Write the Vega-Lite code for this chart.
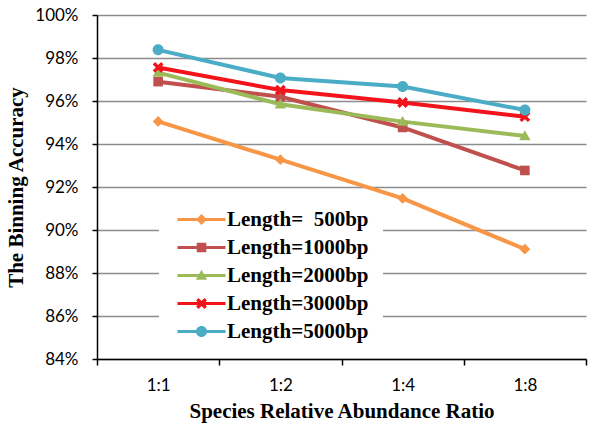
{
  "$schema": "https://vega.github.io/schema/vega-lite/v6.json",
  "width": 489,
  "height": 344,
  "autosize": {"type": "none"},
  "padding": {"left": 97, "top": 15, "right": 14, "bottom": 71},
  "background": "white",
  "config": {"view": {"stroke": null}},
  "data": {
    "values": [
      {"ratio": "1:1", "series": "Length=\u00a0\u00a0500bp", "acc": 0.9505},
      {"ratio": "1:2", "series": "Length=\u00a0\u00a0500bp", "acc": 0.9327},
      {"ratio": "1:4", "series": "Length=\u00a0\u00a0500bp", "acc": 0.9147},
      {"ratio": "1:8", "series": "Length=\u00a0\u00a0500bp", "acc": 0.8911},
      {"ratio": "1:1", "series": "Length=1000bp", "acc": 0.969},
      {"ratio": "1:2", "series": "Length=1000bp", "acc": 0.962},
      {"ratio": "1:4", "series": "Length=1000bp", "acc": 0.9477},
      {"ratio": "1:8", "series": "Length=1000bp", "acc": 0.9277},
      {"ratio": "1:1", "series": "Length=2000bp", "acc": 0.9732},
      {"ratio": "1:2", "series": "Length=2000bp", "acc": 0.9585},
      {"ratio": "1:4", "series": "Length=2000bp", "acc": 0.9504},
      {"ratio": "1:8", "series": "Length=2000bp", "acc": 0.9437},
      {"ratio": "1:1", "series": "Length=3000bp", "acc": 0.9756},
      {"ratio": "1:2", "series": "Length=3000bp", "acc": 0.9651},
      {"ratio": "1:4", "series": "Length=3000bp", "acc": 0.9593},
      {"ratio": "1:8", "series": "Length=3000bp", "acc": 0.9527},
      {"ratio": "1:1", "series": "Length=5000bp", "acc": 0.9838},
      {"ratio": "1:2", "series": "Length=5000bp", "acc": 0.9707},
      {"ratio": "1:4", "series": "Length=5000bp", "acc": 0.9667},
      {"ratio": "1:8", "series": "Length=5000bp", "acc": 0.9558}
    ]
  },
  "encoding": {
    "x": {
      "field": "ratio",
      "type": "ordinal",
      "bandPosition": 0.5,
      "scale": {"type": "band", "domain": ["1:1", "1:2", "1:4", "1:8"], "paddingInner": 0, "paddingOuter": 0},
      "axis": {
        "title": "Species Relative Abundance Ratio",
        "labelAngle": 0,
        "tickBand": "extent",
        "grid": false,
        "domainColor": "black",
        "domainWidth": 1.5,
        "tickColor": "black",
        "tickWidth": 1.5,
        "tickSize": 6,
        "labelFont": "Lato",
        "labelFontSize": 17,
        "labelColor": "black",
        "labelPadding": 12,
        "titleFont": "Liberation Serif",
        "titleFontWeight": "bold",
        "titleFontSize": 21,
        "titleColor": "black",
        "titlePadding": 7
      }
    },
    "y": {
      "field": "acc",
      "type": "quantitative",
      "scale": {"domain": [0.84, 1.0], "nice": false, "zero": false},
      "axis": {
        "title": "The Binning Accuracy",
        "format": ".0%",
        "values": [0.84, 0.86, 0.88, 0.9, 0.92, 0.94, 0.96, 0.98, 1.0],
        "grid": true,
        "gridColor": "#8c8c8c",
        "gridWidth": 1.5,
        "domainColor": "black",
        "domainWidth": 1.5,
        "tickColor": "black",
        "tickWidth": 1.5,
        "tickSize": 5,
        "labelFont": "Lato",
        "labelFontSize": 17,
        "labelColor": "black",
        "labelPadding": 14,
        "titleFont": "Liberation Serif",
        "titleFontWeight": "bold",
        "titleFontSize": 21,
        "titleColor": "black",
        "titlePadding": 8
      }
    },
    "color": {
      "field": "series",
      "type": "nominal",
      "scale": {
        "domain": ["Length=\u00a0\u00a0500bp", "Length=1000bp", "Length=2000bp", "Length=3000bp", "Length=5000bp"],
        "range": ["#F79646", "#C0504D", "#9BBB59", "#F2131B", "#4BACC6"]
      },
      "legend": {
        "title": null,
        "orient": "none",
        "legendX": 62,
        "legendY": 180,
        "padding": 14,
        "fillColor": "white",
        "rowPadding": 6,
        "symbolOffset": 18,
        "labelOffset": 15,
        "symbolSize": 144,
        "symbolStrokeWidth": 0,
        "labelFont": "Liberation Serif",
        "labelFontWeight": "bold",
        "labelFontSize": 21,
        "labelColor": "black",
        "labelLimit": 0,
        "encode": {
          "symbols": {
            "update": {
              "shape": {"signal": "(indexof(datum.value, '5000') >= 0 ? 'M0.92,0 A0.92,0.92 0 1,1 -0.92,0 A0.92,0.92 0 1,1 0.92,0 Z' : indexof(datum.value, '3000') >= 0 ? 'M-0.9,-0.5 L-0.5,-0.9 L0.9,0.5 L0.5,0.9 Z M0.5,-0.9 L0.9,-0.5 L-0.5,0.9 L-0.9,0.5 Z' : indexof(datum.value, '2000') >= 0 ? 'M0,-0.95 L0.95,0.7 L-0.95,0.7 Z' : indexof(datum.value, '1000') >= 0 ? 'M-0.8,-0.8 L0.8,-0.8 L0.8,0.8 L-0.8,0.8 Z' : 'M0,-0.9 L0.9,0 L0,0.9 L-0.9,0 Z') + ' M-4,-0.25 L4,-0.25 L4,0.25 L-4,0.25 Z'"},
              "fill": {"scale": "color", "field": "value"},
              "stroke": {"value": "transparent"},
              "size": {"value": 144},
              "opacity": {"value": 1}
            }
          }
        }
      }
    }
  },
  "layer": [
    {"mark": {"type": "line", "strokeWidth": 4}},
    {
      "transform": [{"filter": {"field": "series", "equal": "Length=\u00a0\u00a0500bp"}}],
      "mark": {"type": "point", "filled": true, "size": 144, "opacity": 1, "strokeWidth": 0, "shape": "M0,-0.9 L0.9,0 L0,0.9 L-0.9,0 Z"}
    },
    {
      "transform": [{"filter": {"field": "series", "equal": "Length=1000bp"}}],
      "mark": {"type": "point", "filled": true, "size": 144, "opacity": 1, "strokeWidth": 0, "shape": "M-0.8,-0.8 L0.8,-0.8 L0.8,0.8 L-0.8,0.8 Z"}
    },
    {
      "transform": [{"filter": {"field": "series", "equal": "Length=2000bp"}}],
      "mark": {"type": "point", "filled": true, "size": 144, "opacity": 1, "strokeWidth": 0, "shape": "M0,-0.95 L0.95,0.7 L-0.95,0.7 Z"}
    },
    {
      "transform": [{"filter": {"field": "series", "equal": "Length=3000bp"}}],
      "mark": {"type": "point", "filled": true, "size": 144, "opacity": 1, "strokeWidth": 0, "shape": "M-0.9,-0.5 L-0.5,-0.9 L0.9,0.5 L0.5,0.9 Z M0.5,-0.9 L0.9,-0.5 L-0.5,0.9 L-0.9,0.5 Z"}
    },
    {
      "transform": [{"filter": {"field": "series", "equal": "Length=5000bp"}}],
      "mark": {"type": "point", "filled": true, "size": 144, "opacity": 1, "strokeWidth": 0, "shape": "M0.92,0 A0.92,0.92 0 1,1 -0.92,0 A0.92,0.92 0 1,1 0.92,0 Z"}
    }
  ]
}
